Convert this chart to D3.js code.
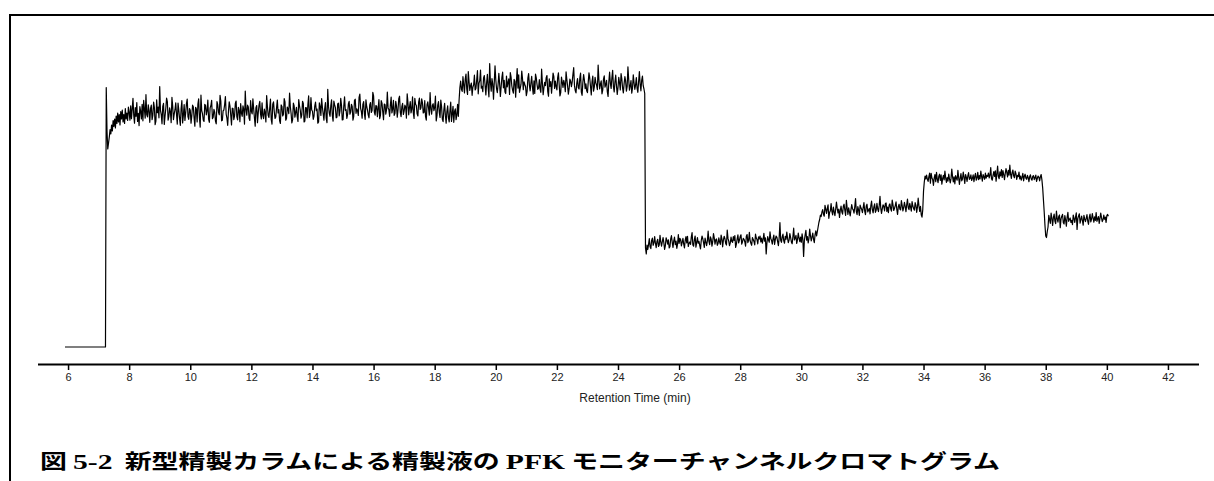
<!DOCTYPE html>
<html>
<head>
<meta charset="utf-8">
<script src="https://cdn.jsdelivr.net/npm/d3@7"></script>
<style>
    body { margin: 0; background: #fff; }
    svg { display: block; }
</style>
</head>
<body>
<div id="grafico"></div>
<script>
// tempo de retencao (min) : inicio e intervalo de amostragem
var tempoInicial = 5.9;
var intervalo = 0.025;

// marcas do eixo X
var ticksX = [6, 8, 10, 12, 14, 16, 18, 20, 22, 24, 26, 28, 30, 32, 34, 36, 38, 40, 42];

var linhaBase = [
    0, 0, 0, 0, 0, 0, 0, 0, 0, 0, 0, 0, 0, 0, 0, 0, 0, 0, 0, 0,
    0, 0, 0, 0, 0, 0, 0, 0, 0, 0, 0, 0, 0, 0, 0, 0, 0, 0, 0, 0,
    0, 0, 0, 0, 0, 0, 0, 0, 0, 0, 0, 0, 0, 0
];
var subida = [
    86.5, 72.0, 66.0, 68.0, 70.0, 72.5, 71.0, 74.0, 72.0, 75.5, 73.5, 76.0, 73.0, 77.0, 74.5,
    78.0, 75.0, 77.5, 74.0, 78.5, 76.0, 79.0, 75.0, 77.5, 74.5, 79.5, 76.0, 78.0, 75.5, 80.0
];
var patamar1 = [
    78.2, 75.6, 80.4, 76.1, 79.3, 82.9, 77.3, 74.6, 79.8, 76.9, 81.5, 75.2, 77.9, 73.8, 80.1, 78.6, 76.0, 80.9, 75.4, 82.2,
    79.2, 76.3, 84.1, 77.5, 76.7, 80.7, 78.8, 74.9, 79.5, 80.6, 75.8, 77.2, 81.6, 79.9, 74.1, 75.3, 82.4, 78.1, 80.0, 76.4,
    86.8, 78.9, 77.5, 74.4, 80.2, 81.2, 74.2, 77.0, 79.6, 83.0, 81.8, 75.6, 76.9, 79.7, 78.4, 74.8, 83.2, 80.3, 75.8, 77.7,
    79.1, 81.4, 77.6, 74.3, 81.3, 79.0, 76.2, 73.9, 79.4, 82.1, 74.7, 77.3, 80.8, 75.5, 78.0, 81.1, 82.6, 76.8, 75.9, 79.5,
    78.9, 74.6, 77.1, 80.6, 80.1, 76.4, 73.6, 79.9, 79.3, 75.0, 81.0, 82.7, 76.5, 73.3, 84.0, 78.8, 77.8, 75.7, 75.2, 80.9,
    80.5, 77.4, 78.7, 82.3, 76.0, 74.9, 79.7, 80.4, 82.2, 76.1, 76.6, 79.2, 78.3, 75.3, 74.4, 81.8, 80.7, 78.2, 77.4, 83.9,
    81.9, 75.4, 75.6, 78.7, 79.0, 80.8, 83.5, 77.6, 76.3, 73.9, 78.5, 81.7, 80.3, 77.3, 74.0, 79.6, 79.5, 75.8, 77.0, 81.2,
    82.0, 76.7, 75.7, 79.9, 78.9, 75.1, 81.1, 78.0, 76.9, 80.4, 79.2, 74.3, 85.3, 79.3, 77.3, 80.6, 80.0, 76.2, 75.5, 82.1,
    78.6, 77.7, 82.7, 79.4, 76.4, 73.6, 79.8, 80.5, 74.8, 78.1, 80.6, 81.9, 77.7, 76.0, 81.4, 77.1, 76.1, 79.3, 78.1, 75.0,
    83.8, 80.2, 77.2, 76.5, 79.6, 82.6, 75.9, 74.3, 80.9, 81.7, 78.4, 76.2, 76.7, 79.8, 82.3, 78.0, 79.1, 75.4, 74.5, 80.7,
    80.2, 77.0, 77.6, 82.8, 81.7, 75.6, 76.2, 80.0, 79.4, 77.8, 84.6, 80.1, 77.9, 74.7, 75.8, 81.3, 80.4, 76.6, 78.2, 79.9,
    76.8, 75.2, 82.5, 80.4, 79.0, 76.3, 77.4, 81.9, 81.2, 75.0, 75.3, 79.8, 79.7, 76.4, 80.8, 83.7, 76.5, 78.1, 83.1, 79.0,
    78.6, 75.9, 77.0, 80.3, 81.6, 78.8, 79.3, 74.6, 75.0, 81.4, 80.1, 77.2, 82.8, 79.9, 77.8, 75.6, 79.5, 81.5, 76.3, 74.8,
    85.9, 80.2, 78.0, 76.9, 80.5, 82.4, 77.1, 75.3, 82.0, 80.7, 79.8, 76.4, 76.6, 81.0, 81.3, 77.0, 78.7, 82.9, 80.6, 75.7,
    75.8, 80.3, 83.4, 78.9, 79.1, 76.2, 77.5, 81.0, 81.9, 77.6, 78.3, 80.9, 80.2, 75.6, 76.9, 82.2, 82.6, 77.9, 79.4, 78.8,
    77.2, 83.2, 84.3, 79.6, 78.5, 76.3, 80.9, 81.8, 77.7, 75.9, 82.4, 80.1, 79.0, 77.4, 76.4, 80.7, 81.5, 78.2, 78.8, 84.9,
    83.7, 78.3, 77.3, 80.5, 80.3, 76.8, 79.6, 82.5, 76.1, 77.2, 82.1, 81.3, 78.4, 75.8, 81.0, 80.8, 77.6, 79.1, 85.0, 79.7,
    79.2, 76.9, 80.7, 83.3, 78.0, 79.4, 82.2, 77.2, 77.9, 81.9, 80.4, 76.6, 79.1, 82.8, 83.6, 78.2, 76.8, 80.1, 81.2, 77.5,
    78.6, 80.6, 80.0, 76.3, 84.4, 81.5, 77.4, 79.9, 81.8, 78.0, 79.3, 83.4, 78.1, 76.2, 82.9, 80.9, 80.5, 77.7, 77.0, 81.6,
    83.0, 79.2, 79.7, 82.7, 81.4, 78.0, 78.2, 82.1, 76.9, 75.6, 80.8, 81.7, 79.5, 77.3, 84.8, 79.4, 77.6, 80.6, 81.1, 78.8,
    79.9, 83.6, 75.4, 77.1, 80.6, 81.8, 78.3, 76.5, 82.3, 80.2, 76.0, 75.1, 79.0, 81.2, 77.2, 74.6, 78.5, 80.4, 76.4, 75.0,
    78.8, 81.6, 75.2, 77.7, 80.2, 74.9, 78.5, 79.4, 75.8, 77.3, 80.9, 76.9,
    82.5, 86.5
];
var patamar2 = [
    88.6, 85.9, 85.2, 90.1, 87.3, 84.7, 89.3, 91.0, 86.0, 84.2, 91.8, 88.4, 85.5, 87.1, 88.0, 83.9, 86.6, 87.4, 90.6, 85.7,
    86.2, 89.0, 92.1, 84.4, 87.9, 88.8, 92.3, 86.3, 86.9, 85.1, 89.7, 90.5, 87.2, 84.0, 88.1, 90.9, 86.5, 83.4, 94.5, 88.2,
    85.3, 89.5, 87.6, 82.6, 88.3, 93.7, 89.1, 86.1, 84.8, 87.5, 91.2, 87.8, 83.5, 86.7, 89.9, 91.6, 86.4, 88.9, 85.0, 84.5,
    90.3, 86.7, 88.1, 89.4, 84.2, 91.5, 90.0, 87.0, 85.6, 84.6, 89.2, 88.6, 83.3, 88.5, 92.8, 86.3, 90.7, 84.9, 86.2, 87.6,
    92.0, 89.4, 85.8, 88.4, 87.5, 86.8, 83.8, 85.2, 89.6, 91.1, 87.3, 85.4, 88.0, 90.2, 86.6, 84.3, 88.7, 84.5, 91.0, 89.7,
    87.5, 85.9, 86.3, 89.1, 86.0, 84.9, 92.6, 88.0, 84.1, 86.4, 88.2, 87.1, 89.8, 90.5, 85.2, 83.6, 89.4, 86.9, 88.5, 84.6,
    88.0, 91.3, 90.1, 86.2, 88.6, 86.9, 85.7, 89.8, 91.4, 87.4, 83.7, 84.8, 90.0, 88.3, 86.5, 88.9, 87.7, 85.1, 91.7, 89.2,
    87.0, 84.3, 86.1, 89.3, 88.6, 86.8, 88.3, 90.9, 93.1, 87.2, 85.5, 84.7, 87.9, 89.5, 86.4, 86.0, 89.6, 91.3, 85.0, 83.9,
    88.2, 90.8, 89.0, 86.1, 87.7, 85.4, 84.8, 88.2, 91.4, 89.6, 86.9, 84.0, 88.5, 90.3, 85.3, 86.7, 89.9, 88.1, 87.2, 85.8,
    94.0, 89.1, 86.0, 87.6, 88.7, 84.4, 85.6, 89.3, 90.4, 86.6, 87.5, 88.9, 85.1, 83.5, 88.4, 91.6, 87.9, 86.2, 89.7, 92.2,
    86.8, 85.0, 88.3, 90.6, 87.1, 84.2, 86.5, 89.9, 88.0, 85.7, 91.1, 89.4, 86.3, 84.7, 87.8, 90.1, 88.6, 85.3, 86.9, 93.4,
    89.2, 85.6, 87.0, 88.8, 84.6, 86.4, 90.7, 88.1, 85.9, 87.3, 89.8, 86.2, 84.9, 88.5, 91.8, 87.6, 85.4, 88.9, 90.3, 87.1,
    86.0, 84.5, 33.0, 31.0, 34.0, 32.5
];
var patamar3 = [
    34.2, 36.1, 33.4, 32.8, 35.5, 36.3, 33.9, 34.7, 36.8, 34.6, 33.1, 35.2, 35.9, 33.5, 34.0, 37.2, 35.0, 33.6, 35.1, 36.5,
    34.8, 32.5, 33.8, 36.4, 35.6, 34.3, 35.7, 33.0, 33.4, 36.0, 37.1, 34.9, 33.2, 35.4, 36.6, 34.1, 35.3, 32.9, 34.4, 37.5,
    34.5, 36.2, 35.8, 33.7, 34.9, 36.2, 34.4, 33.0, 35.6, 36.8, 34.7, 36.9, 33.5, 34.6, 35.0, 34.2, 36.7, 38.1, 34.0, 33.6,
    35.9, 37.0, 33.3, 34.8, 36.5, 34.6, 35.2, 33.9, 32.7, 35.5, 37.0, 36.1, 34.8, 33.2, 36.3, 35.0, 33.8, 35.4, 38.6, 35.3,
    34.1, 36.7, 35.9, 33.6, 35.1, 37.8, 36.4, 34.3, 35.8, 36.0, 33.9, 34.5, 36.4, 35.0, 34.2, 37.3, 36.1, 33.4, 35.7, 36.9,
    36.1, 34.5, 34.0, 39.0, 36.2, 35.3, 33.8, 34.7, 36.6, 35.2, 34.9, 36.8, 35.5, 37.1, 33.2, 34.3, 36.0, 37.4, 34.7, 35.6,
    36.8, 37.4, 34.3, 35.1, 36.2, 35.9, 35.1, 33.6, 36.9, 37.5, 34.8, 35.6, 38.2, 35.4, 34.6, 33.9, 36.5, 35.8, 35.2, 34.0,
    37.6, 36.3, 35.8, 34.4, 36.7, 36.0, 37.0, 35.0, 36.3, 34.6, 35.9, 37.9, 35.3, 36.4, 31.0, 34.8, 36.8, 35.7, 34.9, 38.4,
    36.2, 35.5, 34.3, 36.1, 37.3, 34.2, 35.9, 37.0, 36.6, 35.1, 33.8, 36.4, 41.5, 35.6, 34.9, 36.7, 37.6, 35.4, 34.6, 36.9,
    35.9, 38.3, 36.2, 34.8, 35.7, 37.8, 36.5, 35.0, 34.4, 36.8, 39.6, 35.7, 36.3, 37.2, 34.5, 35.8, 38.0, 36.4, 35.1, 36.6,
    34.9, 37.7, 36.0, 30.2, 35.5, 37.4, 38.9, 35.6, 36.8, 34.7, 36.2, 39.3, 37.1, 35.4, 36.6, 38.0, 35.9, 34.8, 37.5, 38.7,
    37.0, 38.5, 40.0, 41.5, 42.5, 44.0, 43.5, 45.0
];
var patamar4 = [
    45.8, 44.2, 43.6, 47.2, 46.0, 44.5, 46.1, 47.4, 42.9, 44.8, 45.4, 47.8, 45.2, 44.0, 46.6, 45.1, 43.8, 45.9, 48.3, 46.2,
    44.7, 46.0, 43.2, 45.5, 47.0, 45.1, 44.3, 46.9, 47.6, 45.5, 43.9, 48.9, 46.3, 44.2, 46.4, 45.0, 43.7, 45.8, 47.5, 46.1,
    45.7, 44.6, 46.8, 49.5, 45.2, 44.1, 46.8, 45.6, 43.9, 47.3, 46.4, 45.9, 44.8, 46.5, 48.1, 45.3, 44.1, 47.0, 47.6, 45.0,
    45.6, 46.2, 44.4, 47.1, 48.6, 45.8, 44.7, 46.7, 47.7, 44.9, 45.6, 47.9, 46.0, 45.1, 47.2, 50.2, 46.3, 44.5, 46.1, 47.4,
    46.9, 45.4, 47.8, 48.0, 45.2, 46.6, 44.8, 47.3, 47.7, 46.1, 45.3, 49.0, 47.4, 45.5, 46.2, 47.1, 48.4, 45.9, 44.2, 46.8,
    47.6, 46.0, 45.7, 48.8, 47.2, 45.4, 46.5, 48.2, 46.9, 45.1, 47.5, 49.3, 46.4, 45.8, 47.9, 46.7, 45.3, 48.5, 47.0, 46.2,
    45.6, 48.1, 47.3, 44.9, 46.6, 49.6, 47.0, 45.2, 46.9, 44.1, 43.3, 45.8,
    52.0, 55.0, 57.0, 56.0
];
var patamar5 = [
    57.3, 55.9, 55.2, 56.8, 58.0, 54.6, 57.9, 56.3, 55.8, 53.9, 56.4, 57.5, 55.1, 58.2, 56.0, 54.8, 56.9, 57.6, 55.5, 57.4,
    54.3, 56.1, 57.2, 55.7, 58.6, 56.4, 54.9, 56.5, 55.3, 57.6, 56.0, 54.7, 56.2, 59.3, 56.8, 55.0, 56.7, 54.4, 57.1, 56.3,
    55.6, 58.9, 56.5, 54.2, 56.3, 57.8, 55.4, 56.0, 58.3, 56.6, 54.5, 57.5, 56.6, 55.2, 57.0, 58.1, 55.9, 56.2, 57.4, 55.5,
    56.2, 57.4, 55.1, 56.8, 57.9, 55.6, 56.4, 58.2, 55.8, 57.1, 56.0, 58.6, 56.9, 55.3, 57.5, 56.7, 55.9, 58.0, 56.3, 57.2,
    56.9, 58.0, 56.4, 57.3, 59.8, 56.1, 55.6, 57.2, 58.5, 56.9, 58.7, 55.3, 57.7, 60.3, 56.8, 56.1, 58.4, 57.0, 59.1, 56.5,
    58.8, 57.5, 55.8, 57.9, 59.5, 58.2, 56.7, 58.9, 57.3, 60.6, 57.6, 56.2, 58.1, 59.0, 57.1, 56.4, 58.6, 57.8, 55.9, 57.2,
    56.8, 58.3, 56.0, 57.0, 55.6, 56.6, 57.9, 55.4, 56.9, 57.6, 56.3, 55.9, 57.2, 56.5, 55.1, 56.8, 57.4, 56.0, 55.6, 56.9,
    57.1, 55.8, 56.4, 57.3, 55.2, 56.2, 57.0, 56.6, 55.4, 56.8, 57.5, 55.7,
    53.0, 49.0, 45.0, 40.5, 37.0, 36.5, 38.5, 40.0
];
var patamar6 = [
    43.9, 42.5, 41.2, 44.6, 43.0, 40.5, 43.1, 44.3, 42.0, 41.1, 45.3, 42.8, 41.6, 43.5, 44.0, 39.8, 42.7, 43.6, 44.2, 41.4,
    41.0, 43.8, 42.4, 40.3, 43.2, 44.9, 41.9, 42.6, 43.0, 41.5, 42.2, 40.8, 44.0, 42.9, 41.5, 43.3, 44.7, 39.2, 42.8, 43.7,
    44.4, 41.3, 42.5, 43.6, 42.1, 40.6, 43.9, 42.7, 41.8, 42.9, 44.1, 42.0, 40.9, 43.2, 44.3, 41.7, 42.6, 44.5, 43.0, 41.6,
    43.4, 42.2, 44.8, 41.9, 42.7, 43.5, 41.2, 42.9, 44.6, 43.1, 41.8, 42.4, 44.0, 42.6, 43.3, 41.5, 43.8, 44.2, 43.6
];

var titulo = [
    { texto: "図 ", fonte: "jp" },
    { texto: "5-2", fonte: "serif" },
    { texto: "  新型精製カラムによる精製液の ", fonte: "jp" },
    { texto: "PFK", fonte: "serif" },
    { texto: " モニターチャンネルクロマトグラム", fonte: "jp" }
];
var rotuloX = "Retention Time (min)";

function cromatograma(){
    var largura = 1214;
    var altura = 481;

    var sinal = [].concat(linhaBase, subida, patamar1, patamar2, patamar3, patamar4, patamar5, patamar6);
    var dados = sinal.map(function(v, i){
        return { tempo: tempoInicial + i * intervalo, valor: v };
    });

    var svg = d3.select("#grafico")
        .append("svg")
        .attr("width", largura)
        .attr("height", altura);

    // moldura (esquerda e topo)
    svg.append("path")
        .attr("d", "M10,481V15H1214")
        .attr("fill", "none")
        .attr("stroke", "#000")
        .attr("stroke-width", 2);

    var x = d3.scaleLinear().domain([5, 43]).range([37.5, 1198.5]);
    var y = d3.scaleLinear().domain([0, 100]).range([347, 47]);

    // eixo X
    var eixo = svg.append("g")
        .attr("transform", "translate(0,364)")
        .call(d3.axisBottom(x).tickValues(ticksX).tickSize(6).tickSizeOuter(0).tickPadding(3));
    eixo.select(".domain").attr("stroke-width", 2).attr("stroke", "#000");
    eixo.selectAll(".tick line").attr("stroke-width", 1.5).attr("stroke", "#000");
    eixo.selectAll(".tick text")
        .attr("font-family", "'Liberation Sans', Arial, sans-serif")
        .attr("font-size", 11)
        .attr("fill", "#222");

    svg.append("text")
        .attr("x", 635)
        .attr("y", 402)
        .attr("text-anchor", "middle")
        .attr("font-family", "'Liberation Sans', Arial, sans-serif")
        .attr("font-size", 12)
        .attr("fill", "#222")
        .text(rotuloX);

    // curva
    var linha = d3.line()
        .x(function(d){ return x(d.tempo); })
        .y(function(d){ return y(d.valor); });

    svg.append("path")
        .datum(dados)
        .attr("d", linha)
        .attr("fill", "none")
        .attr("stroke", "#000")
        .attr("stroke-width", 1.2)
        .attr("stroke-linejoin", "round");

    // titulo da figura
    var t = svg.append("text")
        .attr("x", 40)
        .attr("y", 469)
        .attr("font-weight", "bold")
        .attr("font-size", 20)
        .attr("textLength", 960)
        .attr("lengthAdjust", "spacingAndGlyphs")
        .attr("fill", "#000");
    titulo.forEach(function(parte){
        t.append("tspan")
            .attr("font-family", parte.fonte == "serif" ? "'Liberation Serif', 'Times New Roman', serif" : "'Noto Sans CJK JP', sans-serif")
            .attr("font-size", parte.fonte == "serif" ? 22 : 20)
            .text(parte.texto);
    });
    t.attr("xml:space", "preserve").style("white-space", "pre");
}

cromatograma();
</script>
</body>
</html>
